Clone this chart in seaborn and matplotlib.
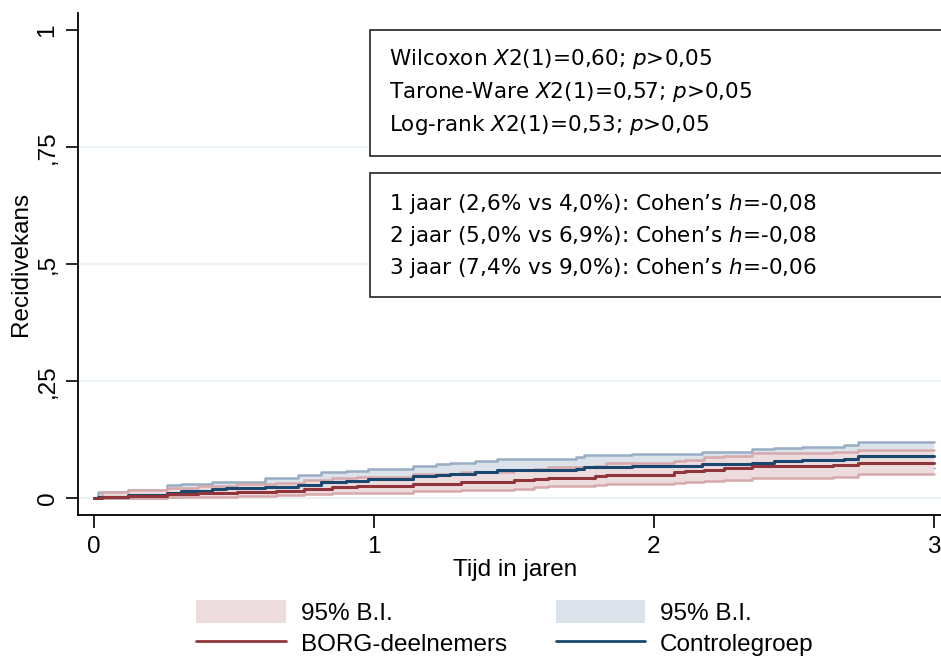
import numpy as np
import pandas as pd
import seaborn as sns
import matplotlib
matplotlib.use("Agg")
from matplotlib import pyplot as plt
from matplotlib.patches import Patch, Rectangle
from matplotlib.lines import Line2D

# BORG-deelnemers (Kaplan-Meier failure, step times in years)
borg_t = [0.00, 0.03, 0.12, 0.26, 0.37, 0.51, 0.65, 0.75, 0.85, 0.94, 1.14, 1.31, 1.50,
          1.57, 1.62, 1.79, 1.83, 2.07, 2.11, 2.18, 2.25, 2.35, 2.64, 2.73, 3.00]
borg_est = [0.000, 0.002, 0.005, 0.008, 0.010, 0.013, 0.016, 0.019, 0.023, 0.026, 0.031, 0.034, 0.038,
            0.041, 0.043, 0.047, 0.050, 0.055, 0.057, 0.061, 0.064, 0.068, 0.071, 0.074, 0.074]
borg_hi = [0.000, 0.013, 0.017, 0.022, 0.025, 0.030, 0.033, 0.038, 0.043, 0.045, 0.052, 0.055, 0.060,
           0.063, 0.066, 0.069, 0.074, 0.079, 0.082, 0.088, 0.090, 0.096, 0.099, 0.103, 0.103]
borg_lo = [0.000, 0.000, 0.001, 0.002, 0.003, 0.004, 0.006, 0.008, 0.010, 0.011, 0.015, 0.018, 0.020,
           0.023, 0.025, 0.028, 0.030, 0.033, 0.035, 0.037, 0.039, 0.044, 0.046, 0.051, 0.051]

# Controlegroep
ctrl_t = [0.00, 0.015, 0.12, 0.26, 0.31, 0.42, 0.47, 0.61, 0.73, 0.81, 0.90, 0.98, 1.14, 1.22,
          1.27, 1.36, 1.44, 1.72, 1.75, 1.92, 2.17, 2.35, 2.43, 2.53, 2.68, 2.73, 3.00]
ctrl_est = [0.000, 0.003, 0.006, 0.011, 0.015, 0.019, 0.022, 0.024, 0.028, 0.035, 0.037, 0.040, 0.047, 0.049,
            0.052, 0.056, 0.060, 0.063, 0.067, 0.068, 0.072, 0.075, 0.079, 0.081, 0.084, 0.090, 0.090]
ctrl_hi = [0.000, 0.013, 0.018, 0.027, 0.031, 0.034, 0.035, 0.044, 0.050, 0.056, 0.058, 0.062, 0.068, 0.072,
           0.074, 0.079, 0.084, 0.087, 0.092, 0.095, 0.099, 0.104, 0.108, 0.110, 0.114, 0.119, 0.119]
ctrl_lo = [0.000, 0.000, 0.001, 0.003, 0.005, 0.008, 0.010, 0.011, 0.013, 0.018, 0.020, 0.023, 0.030, 0.031,
           0.034, 0.037, 0.040, 0.043, 0.046, 0.047, 0.050, 0.052, 0.055, 0.057, 0.059, 0.065, 0.065]

ytick_vals = [0, 0.25, 0.5, 0.75, 1]
ytick_labels = ["0", ",25", ",5", ",75", "1"]
xtick_vals = [0, 1, 2, 3]

box1_lines = ["Wilcoxon $\\mathit{X}$2(1)=0,60; $\\mathit{p}$>0,05",
              "Tarone-Ware $\\mathit{X}$2(1)=0,57; $\\mathit{p}$>0,05",
              "Log-rank $\\mathit{X}$2(1)=0,53; $\\mathit{p}$>0,05"]
box2_lines = ["1 jaar (2,6% vs 4,0%): Cohen\u2019s $\\mathit{h}$=-0,08",
              "2 jaar (5,0% vs 6,9%): Cohen\u2019s $\\mathit{h}$=-0,08",
              "3 jaar (7,4% vs 9,0%): Cohen\u2019s $\\mathit{h}$=-0,06"]

red = "#90353b"
blue = "#1a476f"
red_fill = "#eddcdd"
red_edge = "#d6a9ac"
blue_fill = "#dce2ea"
blue_edge = "#98adc3"

sns.set_style("white")
plt.rcParams["font.family"] = ["Liberation Sans", "DejaVu Sans"]
plt.rcParams["mathtext.fontset"] = "dejavusans"
plt.rcParams["text.color"] = "black"
plt.rcParams["xtick.color"] = "black"
plt.rcParams["ytick.color"] = "black"

W, H = 941, 670
fig = plt.figure(figsize=(W / 100, H / 100), dpi=100)
ax = fig.add_axes([78 / W, 1 - 515 / H, 1 - 78 / W, (515 - 13) / H])

for g in [0, 0.25, 0.5, 0.75]:
    ax.axhline(g, color="#eaf2f3", lw=1.5, zorder=0)

# confidence bands (control first, BORG on top)
ax.fill_between(ctrl_t, ctrl_lo, ctrl_hi, step="post", color=blue_fill, lw=0, zorder=1)
for yy in (ctrl_lo, ctrl_hi):
    ax.step(ctrl_t, yy, where="post", color=blue_edge, lw=1.8, zorder=1)
ax.fill_between(borg_t, borg_lo, borg_hi, step="post", color=red_fill, lw=0, zorder=2)
for yy in (borg_lo, borg_hi):
    ax.step(borg_t, yy, where="post", color=red_edge, lw=1.8, zorder=2)

df_c = pd.DataFrame({"t": ctrl_t, "v": ctrl_est})
df_b = pd.DataFrame({"t": borg_t, "v": borg_est})
sns.lineplot(data=df_c, x="t", y="v", drawstyle="steps-post", color=blue, lw=2.2, ax=ax, zorder=3)
sns.lineplot(data=df_b, x="t", y="v", drawstyle="steps-post", color=red, lw=2.2, ax=ax, zorder=3)

ax.set_xlim(-0.057, 3.025)
ax.set_ylim(-0.036, 1.036)
ax.set_xlabel("")
ax.set_ylabel("")
for s in ["top", "right"]:
    ax.spines[s].set_visible(False)
for s in ["left", "bottom"]:
    ax.spines[s].set_color("black")
    ax.spines[s].set_linewidth(1.3)

ax.set_yticks(ytick_vals)
ax.set_yticklabels(ytick_labels, rotation=90, va="center", fontsize=17.5)
ax.set_xticks(xtick_vals)
ax.set_xticklabels([str(v) for v in xtick_vals], fontsize=17.5)
ax.tick_params(axis="both", direction="out", length=9, width=1.2, color="black", bottom=True, left=True)
ax.tick_params(axis="y", pad=5)
ax.tick_params(axis="x", pad=6)

fig.text(21 / W, 1 - 264 / H, "Recidivekans", rotation=90, ha="center", va="center", fontsize=17.5)
fig.text(515 / W, 1 - 570 / H, "Tijd in jaren", ha="center", va="center", fontsize=17.5)

# annotation boxes
for top, bot in [(30, 156), (173, 297)]:
    fig.patches.append(Rectangle((370 / W, 1 - bot / H), (W - 370 + 20) / W, (bot - top) / H,
                                 transform=fig.transFigure, facecolor="white", edgecolor="#222222",
                                 lw=1.2, zorder=5))
for lines, ys in [(box1_lines, [59, 92, 125]), (box2_lines, [204, 236, 268])]:
    for txt, yy in zip(lines, ys):
        fig.text(389 / W, 1 - yy / H, txt, ha="left", va="center", fontsize=15.5,
                 family="DejaVu Sans", zorder=6)

handles = [Patch(facecolor=red_fill, edgecolor="none"),
           Line2D([], [], color=red, lw=2),
           Patch(facecolor=blue_fill, edgecolor="none"),
           Line2D([], [], color=blue, lw=2)]
labels = ["95% B.I.", "BORG-deelnemers", "95% B.I.", "Controlegroep"]
fig.legend(handles, labels, ncol=2, loc="upper center", bbox_to_anchor=(505 / W, 1 - 600 / H),
           frameon=False, fontsize=17.5, handlelength=3.7, handleheight=1.1, handletextpad=0.6,
           columnspacing=2.0, labelspacing=0.25, borderaxespad=0, borderpad=0)

fig.savefig("out.png", dpi=100)
